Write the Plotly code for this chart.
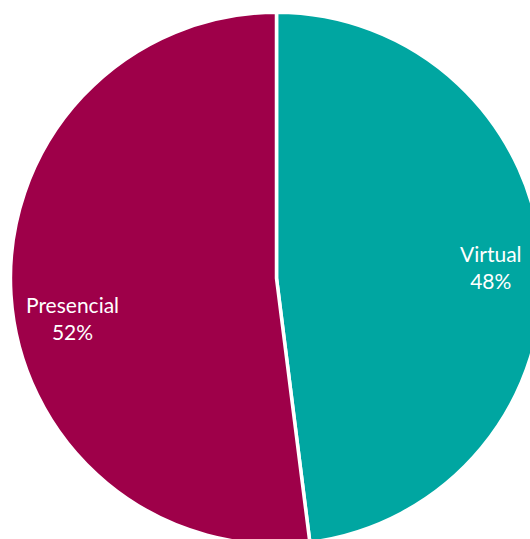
import plotly.graph_objects as go

labels = ["Virtual", "Presencial"]
values = [48, 52]
colors = ["#00A6A1", "#9E0049"]

# label anchor positions in pixels (layout, not data)
label_px = [(491, 267), (72, 318)]

W, H = 545, 552
cx, cy = 276.5, 278.3
line_w = 3.5
R = 264.3 + line_w / 2

total = sum(values)
fig = go.Figure(go.Pie(
    labels=labels, values=values, sort=False, direction="clockwise", rotation=0,
    marker=dict(colors=colors, line=dict(color="white", width=line_w)),
    textinfo="none", hoverinfo="label+percent", showlegend=False,
    domain=dict(x=[(cx - R) / W, (cx + R) / W], y=[(H - cy - R) / H, (H - cy + R) / H]),
))

for lab, v, (px, py) in zip(labels, values, label_px):
    fig.add_annotation(
        x=px / W, y=1 - py / H, xref="paper", yref="paper",
        text=f"{lab}<br>{round(100 * v / total)}%", showarrow=False,
        font=dict(family="Lato", size=21, color="white"), align="center",
        xanchor="center", yanchor="middle",
    )

fig.update_layout(width=W, height=H, margin=dict(l=0, r=0, t=0, b=0),
                  paper_bgcolor="white", plot_bgcolor="white")

fig.write_html("out.html", config={"displayModeBar": False},
               post_script="document.body.style.margin='0';document.body.style.overflow='hidden';")
